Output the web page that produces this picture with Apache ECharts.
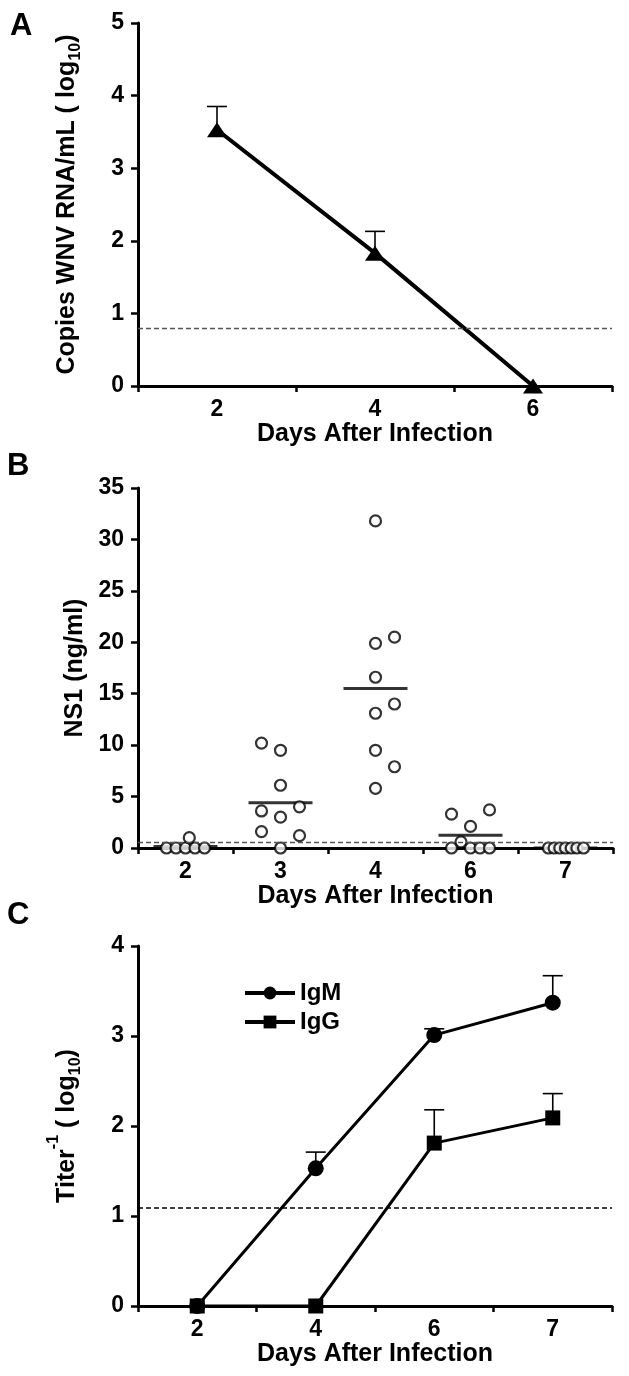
<!DOCTYPE html>
<html>
<head>
<meta charset="utf-8">
<script src="https://cdn.jsdelivr.net/npm/echarts@6/dist/echarts.min.js"></script>
<style>
html,body{margin:0;padding:0;background:#fff;}
#chart{width:629px;height:1376px;}
</style>
</head>
<body>
<div id="chart"></div>
<script>
// ---------- Panel A: viral RNA ----------
const daysA = ['2', '4', '6'];
const rnaMean = [3.53, 1.83, 0];
const rnaErr = [0.32, 0.30, 0];
const rnaLimit = 0.79;

// ---------- Panel B: NS1 ----------
const daysB = ['2', '3', '4', '6', '7'];
const ns1Day2 = [0, 0, 0, 0, 0, 1.0];
const ns1Day3 = [10.2, 9.5, 6.1, 3.6, 3.0, 4.0, 1.6, 1.2, 0];
const ns1Day4 = [31.8, 19.9, 20.5, 16.6, 13.1, 14.0, 9.5, 7.9, 5.8];
const ns1Day6 = [3.3, 3.7, 2.1, 0.6, 0, 0, 0, 0];
const ns1Day7 = [0, 0, 0, 0, 0, 0, 0];
// horizontal jitter slots of the dot plot (in column units)
const jitDay2 = [-1, -0.5, 0, 0.5, 1, 0.2];
const jitDay3 = [-1, 0, 0, -1, 0, 1, -1, 1, 0];
const jitDay4 = [0, 0, 1, 0, 0, 1, 0, 1, 0];
const jitDay6 = [-1, 1, 0, -0.5, -1, 0, 0.5, 1];
const jitDay7 = [-0.9, -0.6, -0.3, 0, 0.3, 0.6, 0.95];
const ns1Median = [0.15, 4.4, 15.5, 1.25, 0];
const ns1Limit = 0.6;

// ---------- Panel C: antibody titers ----------
const daysC = ['2', '4', '6', '7'];
const igmMean = [0, 1.53, 3.01, 3.37];
const igmErr = [0, 0.18, 0.07, 0.30];
const iggMean = [0, 0, 1.81, 2.09];
const iggErr = [0, 0, 0.37, 0.27];
const titerLimit = 1.09;

const FONT = 'Liberation Sans, Arial, Helvetica, sans-serif';
const JIT = 19;

const chart = echarts.init(document.getElementById('chart'), null, {renderer: 'canvas'});

function xAxisCfg(cats, gi) {
  return {
    type: 'category', data: cats, gridIndex: gi, boundaryGap: true,
    name: 'Days After Infection', nameLocation: 'middle', nameGap: 36,
    nameTextStyle: {color: '#000', fontSize: 25, fontWeight: 'bold', fontFamily: FONT},
    axisLine: {lineStyle: {color: '#000', width: 3}},
    axisTick: {show: true, alignWithLabel: false, interval: 0, length: 6, lineStyle: {color: '#000', width: 2.5}},
    axisLabel: {color: '#000', fontSize: 23, fontWeight: 'bold', fontFamily: FONT, margin: 12, interval: 0},
    splitLine: {show: false}
  };
}
function yAxisCfg(gi, max, interval, name, rich, gap) {
  return {
    type: 'value', gridIndex: gi, min: 0, max: max, interval: interval,
    name: name, nameLocation: 'middle', nameGap: gap, nameRotate: 90,
    nameTextStyle: {color: '#000', fontSize: 25, fontWeight: 'bold', fontFamily: FONT, rich: rich},
    axisLine: {show: true, lineStyle: {color: '#000', width: 3}},
    axisTick: {show: true, length: 7, lineStyle: {color: '#000', width: 2.5}},
    axisLabel: {color: '#000', fontSize: 23, fontWeight: 'bold', fontFamily: FONT, margin: 14},
    splitLine: {show: false}
  };
}

function errorSeries(xi, mean, err, z) {
  return {
    type: 'custom', xAxisIndex: xi, yAxisIndex: xi, z: z || 1,
    data: mean.map((m, i) => [i, m, m + err[i]]),
    renderItem: function (params, api) {
      if (api.value(2) - api.value(1) <= 0) return null;
      const p0 = api.coord([api.value(0), api.value(1)]);
      const p1 = api.coord([api.value(0), api.value(2)]);
      return {
        type: 'group', children: [
          {type: 'line', shape: {x1: p0[0], y1: p0[1], x2: p1[0], y2: p1[1]}, style: {stroke: '#000', lineWidth: 1.6}},
          {type: 'line', shape: {x1: p1[0] - 10, y1: p1[1], x2: p1[0] + 10, y2: p1[1]}, style: {stroke: '#000', lineWidth: 1.6}}
        ]
      };
    }
  };
}

const dayGroups = [ns1Day2, ns1Day3, ns1Day4, ns1Day6, ns1Day7];
const jitGroups = [jitDay2, jitDay3, jitDay4, jitDay6, jitDay7];
const ns1Points = [];
dayGroups.forEach((vals, ci) => {
  vals.forEach((v, k) => {
    ns1Points.push({value: [ci, v], symbolOffset: [jitGroups[ci][k] * JIT, 0]});
  });
});

const dashLine = (val, color, width) => ({
  silent: true, symbol: 'none', label: {show: false},
  lineStyle: {type: [5, 3], color: color, width: width},
  data: [{yAxis: val}]
});

const subStyle = {fontSize: 16, fontWeight: 'bold', fontFamily: FONT, verticalAlign: 'bottom', padding: [0, 0, -4, 0]};
const supStyle = {fontSize: 16, fontWeight: 'bold', fontFamily: FONT, verticalAlign: 'top', padding: [-9, 0, 0, 0]};

const option = {
  backgroundColor: '#fff',
  animation: false,
  grid: [
    {left: 138, right: 17, top: 23, height: 363},
    {left: 138, right: 16, top: 488, height: 360},
    {left: 138, right: 17, top: 946, height: 360}
  ],
  xAxis: [xAxisCfg(daysA, 0), xAxisCfg(daysB, 1), xAxisCfg(daysC, 2)],
  yAxis: [
    yAxisCfg(0, 5, 1, 'Copies WNV RNA/mL ( log{s|10})', {s: subStyle}, 58),
    yAxisCfg(1, 35, 5, 'NS1 (ng/ml)', {}, 46),
    yAxisCfg(2, 4, 1, 'Titer{p|-1} ( log{s|10})', {p: supStyle, s: subStyle}, 58)
  ],
  legend: {
    left: 238, top: 976, orient: 'vertical', itemWidth: 50, itemHeight: 16, itemGap: 5,
    textStyle: {color: '#000', fontSize: 24, fontWeight: 'bold', fontFamily: FONT},
    lineStyle: {width: 4},
    data: ['IgM', 'IgG']
  },
  graphic: [
    {type: 'text', left: 10, top: 11, style: {text: 'A', font: 'bold 31px ' + FONT, fill: '#000'}},
    {type: 'text', left: 7, top: 451, style: {text: 'B', font: 'bold 31px ' + FONT, fill: '#000'}},
    {type: 'text', left: 7, top: 900, style: {text: 'C', font: 'bold 31px ' + FONT, fill: '#000'}}
  ],
  series: [
    // Panel A
    errorSeries(0, rnaMean, rnaErr, 1),
    {
      type: 'line', xAxisIndex: 0, yAxisIndex: 0, z: 3,
      data: rnaMean, symbol: 'triangle', symbolSize: [20, 15], showSymbol: true,
      lineStyle: {color: '#000', width: 4}, itemStyle: {color: '#000'},
      markLine: dashLine(rnaLimit, '#555', 1.3)
    },
    // Panel B
    {
      type: 'scatter', xAxisIndex: 1, yAxisIndex: 1, z: 2,
      data: ns1Median.map((m, i) => [i, m]),
      symbol: 'rect', symbolSize: [64, 3], itemStyle: {color: '#000'},
      markLine: dashLine(ns1Limit, '#555', 1.3)
    },
    {
      type: 'scatter', xAxisIndex: 1, yAxisIndex: 1, z: 3,
      data: ns1Points, symbol: 'circle', symbolSize: 11,
      itemStyle: {color: '#fff', borderColor: '#000', borderWidth: 2.2}
    },
    // Panel C
    errorSeries(2, igmMean, igmErr, 1),
    errorSeries(2, iggMean, iggErr, 1),
    {
      name: 'IgM', type: 'line', xAxisIndex: 2, yAxisIndex: 2, z: 3,
      data: igmMean, symbol: 'circle', symbolSize: 16,
      lineStyle: {color: '#000', width: 3}, itemStyle: {color: '#000'},
      markLine: dashLine(titerLimit, '#000', 1.5)
    },
    {
      name: 'IgG', type: 'line', xAxisIndex: 2, yAxisIndex: 2, z: 4,
      data: iggMean, symbol: 'rect', symbolSize: 15,
      lineStyle: {color: '#000', width: 3}, itemStyle: {color: '#000'}
    }
  ]
};
chart.setOption(option);
</script>
</body>
</html>
